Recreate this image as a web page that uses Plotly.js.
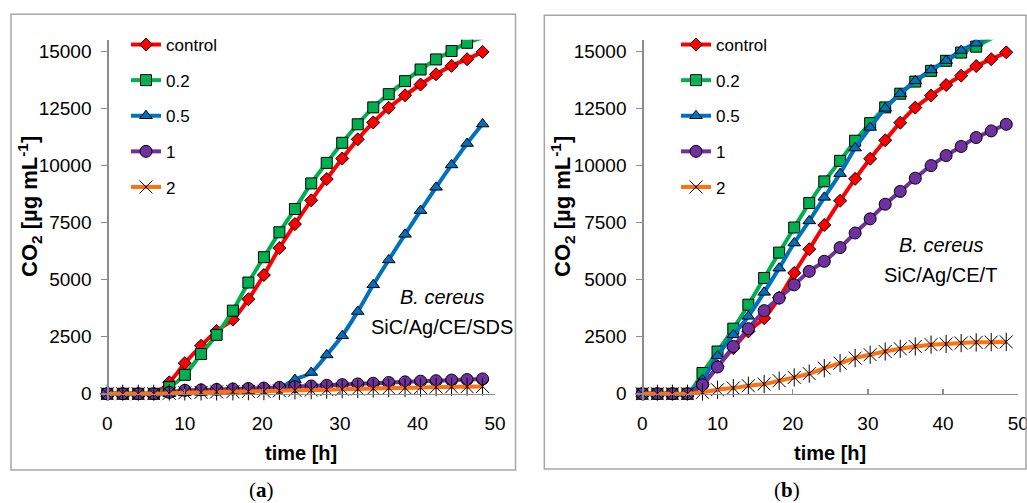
<!DOCTYPE html>
<html>
<head>
<meta charset="utf-8">
<script src="https://cdn.plot.ly/plotly-3.0.1.min.js"></script>
<style>html,body{margin:0;padding:0;background:#fff;}#chart{width:1027px;height:503px;}</style>
</head>
<body>
<div id="chart"></div>
<script>
// ---- data ----
const time = [0,2,4,6,8,10,12.1,14.1,16.2,18.2,20.2,22.2,24.2,26.3,28.3,30.3,32.3,34.3,36.3,38.4,40.4,42.4,44.4,46.4,48.4];
const seriesNames = ["control","0.2","0.5","1","2"];

// panel (a) SiC/Ag/CE/SDS
const controlA = [0,0,0,0,500,1340,2100,2750,3250,4140,5200,6380,7430,8470,9400,10300,11140,11880,12520,13070,13540,13990,14360,14650,14970];
const c02A     = [0,0,0,0,290,830,1740,2580,3640,4870,5980,7070,8090,9210,10110,10990,11800,12540,13120,13690,14200,14640,15010,15370,15600];
const c05A     = [0,0,0,0,0,40,60,80,100,130,170,260,620,930,1700,2540,3600,4770,5860,6980,8020,9040,10020,10960,11810];
const c1A      = [0,0,0,0,60,150,170,190,210,230,250,280,310,340,370,400,430,460,490,520,550,570,600,620,650];
const c2A      = [0,0,0,0,20,40,60,80,90,100,110,130,150,160,180,200,210,230,250,260,270,290,300,310,320];

// panel (b) SiC/Ag/CE/T
const controlB = [0,0,0,0,400,1200,2000,2730,3310,4200,5290,6330,7390,8450,9410,10290,11100,11870,12530,13060,13520,13930,14350,14650,14950];
const c02B     = [0,0,0,0,910,1850,2850,3900,5070,6180,7280,8350,9300,10200,11080,11850,12540,13140,13670,14140,14580,14940,15200,15560,15850];
const c05B     = [0,0,0,0,610,1660,2580,3390,4440,5500,6600,7570,8600,9640,10760,11660,12500,13140,13700,14180,14590,15030,15350,15650,15900];
const c1B      = [0,0,0,0,390,1170,2070,2850,3640,4190,4770,5360,5800,6400,7040,7660,8300,8860,9440,9990,10430,10830,11220,11510,11800];
const c2B      = [0,0,0,0,60,175,250,350,425,570,715,880,1120,1340,1560,1710,1850,1970,2070,2150,2180,2220,2250,2260,2270];

const xTickVals = [0,10,20,30,40,50];
const xTickText = ["0","10","20","30","40","50"];
const yTickVals = [0,2500,5000,7500,10000,12500,15000];
const yTickText = ["0","2500","5000","7500","10000","12500","15000"];
const Y_MAX = 15500;

// ---- styles ----
const colors = ["#ff0000","#00b050","#0070c0","#7030a0","#ff7010"];
const symbols = ["diamond","square","triangle-up","circle","x-thin-open"];
const sizes = [10,11,11,12,13];

function mk(y, i, xa, ya, leg) {
  const isStar = i === 4;
  return {
    x: time, y: y, name: seriesNames[i], xaxis: xa, yaxis: ya, legend: leg,
    legendgroup: leg + "_" + i,
    type: "scatter", mode: "lines+markers",
    line: {color: colors[i], width: 4, shape: "spline", smoothing: 0.9},
    marker: {
      symbol: symbols[i], size: sizes[i],
      color: isStar ? "#000" : colors[i],
      opacity: y.map(v => v > Y_MAX ? 0 : 1),
      line: {color: "#000", width: 1}
    }
  };
}
function starBar(y, xa, ya) {
  return {x: time, y: y, xaxis: xa, yaxis: ya, type: "scatter", mode: "markers", showlegend: false,
    marker: {symbol: "line-ns-open", size: 13, color: "#000", line: {color: "#000", width: 1}}};
}

const panelA = [controlA, c02A, c05A, c1A, c2A];
const panelB = [controlB, c02B, c05B, c1B, c2B];
const traces = [];
panelA.forEach((y, i) => traces.push(mk(y, i, "x", "y", "legend")));
traces.push(starBar(c2A, "x", "y"));
panelB.forEach((y, i) => traces.push(mk(y, i, "x2", "y2", "legend2")));
traces.push(starBar(c2B, "x2", "y2"));

const W = 1027, H = 503;
const px = v => v / W, py = v => 1 - v / H;
const tickFont = {family: "Liberation Sans, Arial, sans-serif", size: 19, color: "#000"};
const axisGray = "#8c8c8c";

function xAxis(dom, pos) {
  return {domain: dom, range: [-1, 50], anchor: "free", position: pos, showline: true, linecolor: axisGray, linewidth: 1.3,
    ticks: "inside", ticklen: 5, tickcolor: axisGray, tickwidth: 1.3, tickvals: xTickVals, ticktext: xTickText,
    showgrid: false, zeroline: false, tickfont: tickFont, ticklabelstandoff: 12, ticklabeloverflow: "allow"};
}
function yAxis(dom, pos) {
  return {domain: dom, range: [-300, Y_MAX], anchor: "free", position: pos, showline: true, linecolor: axisGray, linewidth: 1.3,
    ticks: "outside", ticklen: 6, tickcolor: axisGray, tickwidth: 1.3, tickvals: yTickVals, ticktext: yTickText,
    showgrid: false, zeroline: false, tickfont: tickFont, ticklabelstandoff: 6};
}
const yDom = [py(400.6), py(39.8)];
const legFont = {family: "Liberation Sans, Arial, sans-serif", size: 17, color: "#000"};
function legend(x) {
  return {x: px(x), xanchor: "left", y: py(27), yanchor: "top", font: legFont, bgcolor: "rgba(0,0,0,0)",
    traceorder: "grouped", tracegroupgap: 10.5, itemwidth: 30};
}

const ann = [];
function txt(text, x, y, font, extra) {
  ann.push(Object.assign({text: text, x: px(x), y: py(y), xref: "paper", yref: "paper", showarrow: false,
    xanchor: "center", yanchor: "middle", font: font}, extra || {}));
}
const bold = {family: "Liberation Sans, Arial, sans-serif", size: 20, color: "#000", weight: "bold"};
const ytitle = {family: "Liberation Sans, Arial, sans-serif", size: 22, color: "#000", weight: "bold"};
txt("<b>time [h]</b>", 301, 453, bold);
txt("<b>time [h]</b>", 830, 453, bold);
txt("<b>CO<sub>2</sub> [µg mL<sup>-1</sup>]</b>", 29, 207, ytitle, {textangle: -90});
txt("<b>CO<sub>2</sub> [µg mL<sup>-1</sup>]</b>", 562, 207, ytitle, {textangle: -90});
const labFont = {family: "Liberation Sans, Arial, sans-serif", size: 20, color: "#000"};
txt("<i>B. cereus</i>", 442, 297, labFont);
txt("SiC/Ag/CE/SDS", 442, 327, labFont);
txt("<i>B. cereus</i>", 941, 245, labFont);
txt("SiC/Ag/CE/T", 940, 275, labFont);
const serif = {family: "Liberation Serif, Times New Roman, serif", size: 21, color: "#000"};
txt("(<b>a</b>)", 261, 490, serif);
txt("(<b>b</b>)", 787, 490, serif);

const frame = {color: "#a6a6a6", width: 1.5};
const shapes = [
  {type: "rect", xref: "paper", yref: "paper", x0: px(11), x1: px(515.5), y0: py(470), y1: py(14.3), line: frame},
  {type: "rect", xref: "paper", yref: "paper", x0: px(544.3), x1: px(1026), y0: py(469), y1: py(15.3), line: frame}
];

const layout = {
  width: W, height: H, margin: {l: 0, r: 0, t: 0, b: 0},
  paper_bgcolor: "#fff", plot_bgcolor: "rgba(0,0,0,0)",
  showlegend: true,
  xaxis: xAxis([px(99.5), px(495)], py(394)),
  yaxis: yAxis(yDom, px(107.3)),
  xaxis2: xAxis([px(634.8), px(1018.3)], py(394)),
  yaxis2: yAxis(yDom, px(642.3)),
  legend: legend(126),
  legend2: legend(676),
  annotations: ann,
  shapes: shapes
};

Plotly.newPlot("chart", traces, layout, {staticPlot: true});
</script>
</body>
</html>
